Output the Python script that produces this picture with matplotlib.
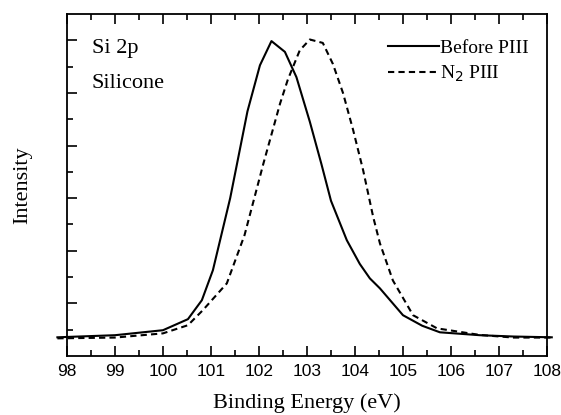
import numpy as np
import matplotlib.pyplot as plt
from matplotlib.ticker import MultipleLocator

# Si 2p spectrum, before PIII (solid)
be_before = [97.8, 99.0, 100.0, 100.52, 100.81, 101.04, 101.4, 101.76, 102.02,
             102.26, 102.54, 102.78, 103.06, 103.3, 103.5, 103.83, 104.1,
             104.31, 104.52, 105.0, 105.4, 105.77, 106.6, 107.3, 108.1]
int_before = [-0.29, -0.21, -0.02, 0.4, 1.12, 2.26, 5.0, 8.3, 10.05,
              10.97, 10.56, 9.6, 7.9, 6.3, 4.9, 3.4, 2.5,
              1.95, 1.57, 0.55, 0.15, -0.1, -0.21, -0.26, -0.29]

# after N2 PIII (dashed)
be_n2 = [97.8, 99.0, 100.0, 100.52, 100.83, 101.33, 101.7, 102.09, 102.44,
         102.6, 102.85, 103.06, 103.33, 103.54, 103.75, 103.96, 104.17,
         104.38, 104.52, 104.79, 105.21, 105.71, 106.6, 107.3, 108.1]
int_n2 = [-0.33, -0.3, -0.14, 0.17, 0.74, 1.76, 3.6, 6.3, 8.6,
          9.5, 10.62, 11.03, 10.9, 10.1, 9.0, 7.6, 6.06,
          4.28, 3.28, 1.87, 0.55, 0.05, -0.2, -0.3, -0.3]

plt.rcParams['font.family'] = 'Liberation Serif'

fig = plt.figure(figsize=(5.61, 4.15), dpi=100)
ax = fig.add_axes([0.1194, 0.1422, 0.8556, 0.8241])

ax.plot(be_before, int_before, 'k-', lw=1.5, label='Before PIII', clip_on=False)
ax.plot(be_n2, int_n2, 'k--', lw=1.5, dashes=(3, 2), label=r'N$_2$ PIII',
        clip_on=False)

ax.set_xlim(98, 108)
ax.set_ylim(-1, 12)
ax.xaxis.set_major_locator(MultipleLocator(1))
ax.xaxis.set_minor_locator(MultipleLocator(0.5))
ax.set_yticks(np.arange(1, 12, 2))
ax.set_yticks(np.arange(0, 11, 2), minor=True)
ax.tick_params(which='both', direction='in', top=True, right=True, width=1.2)
ax.tick_params(which='major', length=7)
ax.tick_params(which='minor', length=4)
ax.tick_params(axis='y', which='both', right=False, labelleft=False)
ax.tick_params(axis='x', labelsize=12.5, pad=6)
for lab in ax.get_xticklabels():
    lab.set_fontfamily('Liberation Sans')
for s in ax.spines.values():
    s.set_linewidth(1.3)

ax.text(0.052, 0.90, 'Si 2p', transform=ax.transAxes, fontsize=16, va='center')
ax.text(0.052, 0.797, 'Silicone', transform=ax.transAxes, fontsize=16,
        va='center')

ax.legend(loc='upper left', bbox_to_anchor=(0.668, 0.925), frameon=False,
          fontsize=14, handlelength=2.65, handletextpad=0.05,
          labelspacing=0.35, borderpad=0, borderaxespad=0)

ax.set_xlabel('Binding Energy (eV)', fontsize=16, labelpad=10)
ax.set_ylabel('Intensity', fontsize=16, labelpad=25)

fig.savefig('out.png', dpi=100)
